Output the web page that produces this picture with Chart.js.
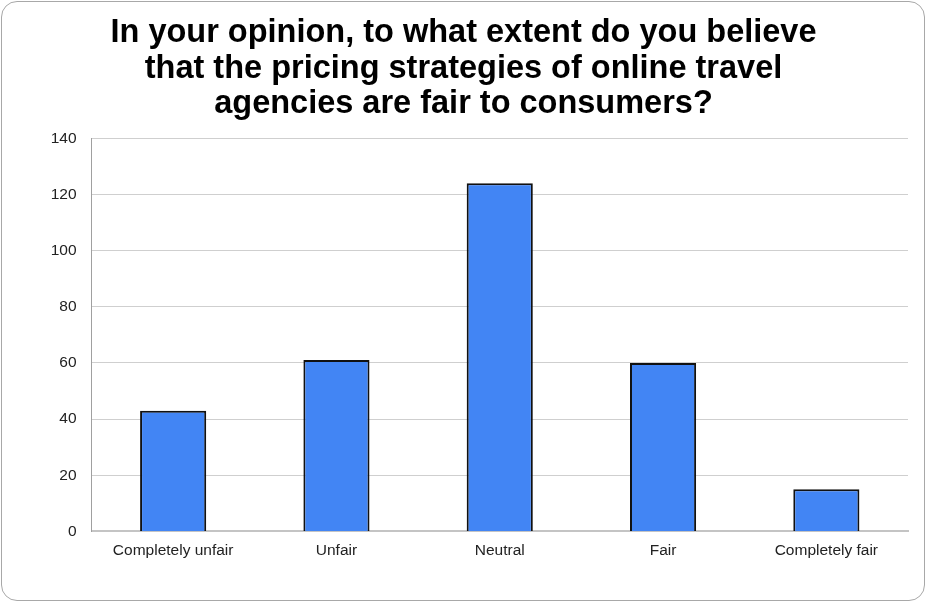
<!DOCTYPE html>
<html>
<head>
<meta charset="utf-8">
<script src="https://cdn.jsdelivr.net/npm/chart.js@4/dist/chart.umd.min.js"></script>
<style>
  html, body { margin: 0; padding: 0; background: #fff; }
  #wrap { position: relative; width: 927px; height: 603px; }
  #frame {
    position: absolute; left: 1px; top: 1px; width: 922px; height: 598px;
    border: 1px solid #a8a8a8; border-radius: 16px;
  }
  canvas { position: absolute; left: 0; top: 0; }
</style>
</head>
<body>
<div id="wrap">
  <div id="frame"></div>
  <canvas id="myChart" width="927" height="603"></canvas>
</div>
<script>
const titleLines = [
    'In your opinion, to what extent do you believe',
    'that the pricing strategies of online travel',
    'agencies are fair to consumers?'
]
const answers = ['Completely unfair', 'Unfair', 'Neutral', 'Fair', 'Completely fair']
const responses = [43, 61, 124, 60, 15]
const yTicks = [0, 20, 40, 60, 80, 100, 120, 140]

const fontFamily = '"Liberation Sans", Arial, sans-serif'

let ctx = document.getElementById('myChart').getContext('2d')
let chart = new Chart(ctx, {
    type: 'bar',
    data: {
        labels: answers,
        datasets: [{
            data: responses,
            backgroundColor: '#4285f4',
            borderColor: '#111',
            borderWidth: 2,
            barPercentage: 0.405,
            categoryPercentage: 1
        }]
    },
    options: {
        responsive: false,
        animation: false,
        // equal side padding keeps the title centred on the canvas
        layout: { padding: { left: 19, right: 19, top: 0, bottom: 33 } },
        plugins: {
            legend: { display: false },
            tooltip: { enabled: false },
            title: {
                display: true,
                text: titleLines,
                color: '#000',
                font: { family: fontFamily, size: 32.5, weight: 'bold', lineHeight: 1.1 },
                padding: { top: 15, bottom: 16 }
            }
        },
        scales: {
            x: {
                grid: { display: false, drawTicks: false },
                border: { color: '#c4c4c4', width: 2 },
                ticks: { color: '#222', font: { family: fontFamily, size: 15.5 }, padding: 10, maxRotation: 0 }
            },
            y: {
                min: 0,
                max: 140,
                afterBuildTicks: (axis) => { axis.ticks = yTicks.map(v => ({ value: v })) },
                afterFit: (axis) => { axis.width = 72.5 },
                grid: { color: '#cfcfcf', drawTicks: false },
                border: { color: '#a0a0a0', width: 1 },
                ticks: { color: '#222', font: { family: fontFamily, size: 15.5 }, padding: 15 }
            }
        }
    }
})
</script>
</body>
</html>
